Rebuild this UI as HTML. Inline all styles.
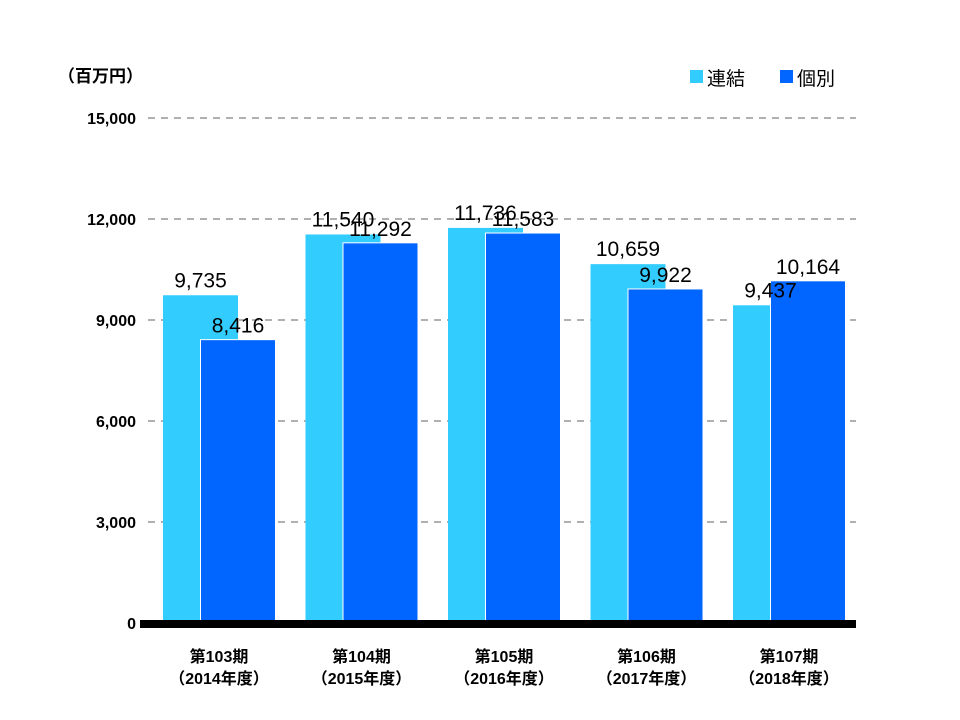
<!DOCTYPE html>
<html><head><meta charset="utf-8"><style>
html,body{margin:0;padding:0;background:#fff;}
svg{display:block;font-family:"Liberation Sans","Noto Sans CJK JP",sans-serif;}
</style></head><body>
<svg id="chart" width="960" height="720" viewBox="0 0 960 720">
<text x="58" y="82" font-size="17" font-weight="bold" fill="#000">（百万円）</text>
<g>
<rect x="690" y="70" width="13" height="13" fill="#33ccff"/>
<text x="707" y="85" font-size="19" fill="#000">連結</text>
<rect x="780" y="70" width="13" height="13" fill="#0066ff"/>
<text x="797" y="85" font-size="19" fill="#000">個別</text>
</g>
<g id="grid"></g><g id="bars"></g><g id="labels"></g>
<rect x="140" y="620" width="716" height="8" fill="#000"/>
</svg>
<script>
const categories = ["第103期|（2014年度）","第104期|（2015年度）","第105期|（2016年度）","第106期|（2017年度）","第107期|（2018年度）"];
const consolidated = [9735, 11540, 11736, 10659, 9437];
const standalone = [8416, 11292, 11583, 9922, 10164];
const yTicks = [0, 3000, 6000, 9000, 12000, 15000];
const NS = "http://www.w3.org/2000/svg";
const y0 = 623, pxPer = 505 / 15000;
const y = v => y0 - v * pxPer;
const gx = i => 163 + i * 142.5;
const fmt = v => v.toLocaleString("en-US");
function mk(tag, attrs, parent){const e=document.createElementNS(NS,tag);for(const k in attrs)e.setAttribute(k,attrs[k]);parent.appendChild(e);return e;}
const grid=document.getElementById("grid"), bars=document.getElementById("bars"), labels=document.getElementById("labels");
yTicks.forEach(t=>{
  if(t>0){const l=mk("line",{x1:148,x2:856,y1:y(t),y2:y(t),stroke:"#808080","stroke-width":1.3,"stroke-dasharray":"7,6"},grid);
  
  }
  const tx=mk("text",{x:136,y:y(t)+6,"text-anchor":"end","font-size":16,"font-weight":"bold",fill:"#000"},grid);
  tx.textContent=fmt(t);
  
  
});
categories.forEach((c,i)=>{
  const x=gx(i);
  const b1=mk("rect",{x:x,y:y(consolidated[i]),width:75,height:y0-y(consolidated[i]),fill:"#33ccff"},bars);
  
  
  const b2=mk("rect",{x:x+37.5,y:y(standalone[i]),width:75,height:y0-y(standalone[i]),fill:"#0066ff",stroke:"#fff","stroke-width":1},bars);
  
  
  const t1=mk("text",{x:x+37.5,y:y(consolidated[i])-8,"text-anchor":"middle","font-size":21,fill:"#000"},labels);
  t1.textContent=fmt(consolidated[i]);
  
  
  const t2=mk("text",{x:x+75,y:y(standalone[i])-7,"text-anchor":"middle","font-size":21,fill:"#000"},labels);
  t2.textContent=fmt(standalone[i]);
  
  
  const parts=c.split("|");
  const c1=mk("text",{x:x+56,y:662,"text-anchor":"middle","font-size":16,"font-weight":"bold",fill:"#000"},labels);
  c1.textContent=parts[0];
  
  
  const c2=mk("text",{x:x+56,y:684,"text-anchor":"middle","font-size":16,"font-weight":"bold",fill:"#000"},labels);
  c2.textContent=parts[1];
  
  
});
</script>
</body></html>
